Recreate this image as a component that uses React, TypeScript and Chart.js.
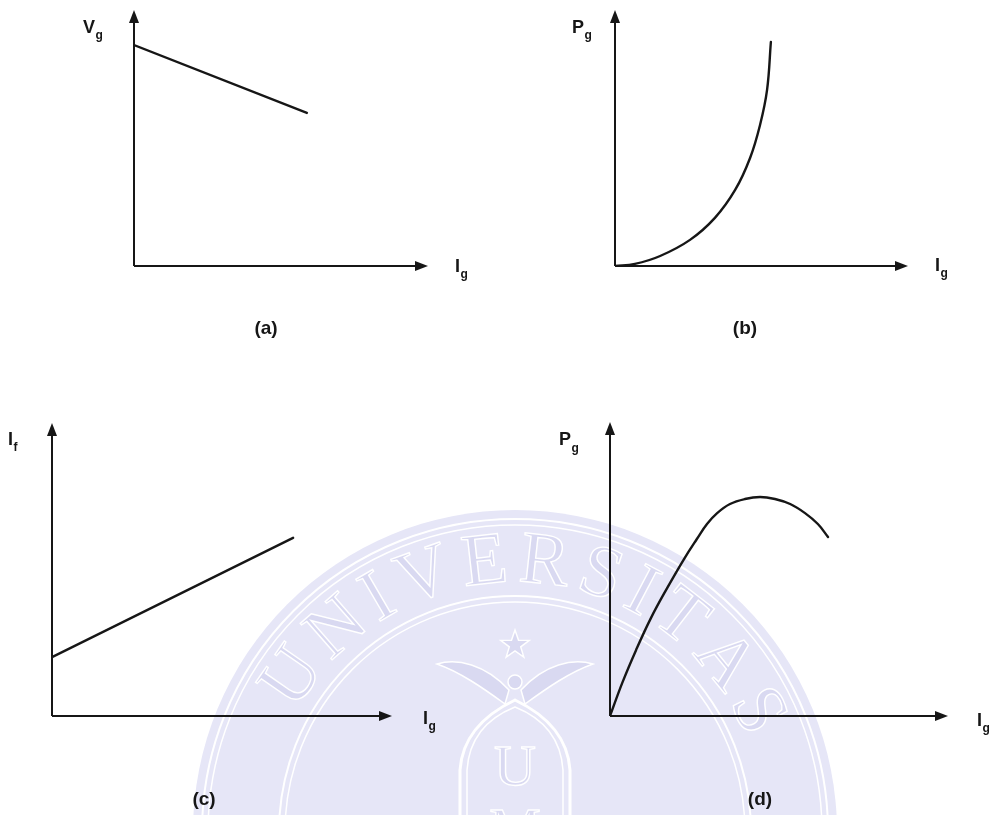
import React, { useEffect, useRef } from "react";
import { Chart, registerables } from "chart.js";

Chart.register(...registerables);

const W = 999;
const H = 815;
const INK = "#161616";

// (a) terminal voltage Vg against load current Ig
const aIg = [0, 58.8];
const aVg = [86.3, 59.8];

// (b) power Pg against load current Ig
const bIg = [0, 6.8, 15.4, 25.6, 34.1, 41.0, 46.1, 49.5, 51.9, 53.2];
const bPg = [0, 0.8, 3.9, 10.2, 18.8, 29.7, 42.2, 55.1, 68.8, 87.5];

// (c) field current If against load current Ig
const cIg = [0, 70.9];
const cIf = [20.1, 60.8];

// (d) power Pg against load current Ig, with a maximum
const dIg = [0, 3.6, 7.7, 12.1, 16.9, 21.9, 25.7, 28.7, 31.7, 35.5, 39.9, 44.4, 48.8, 53.3, 57.7, 61.5, 64.5];
const dPg = [0, 11.2, 22.4, 33.3, 43.5, 53.4, 60.2, 65.3, 69.0, 72.1, 73.8, 74.5, 73.8, 72.1, 69.0, 65.3, 60.9];

const captions = ["(a)", "(b)", "(c)", "(d)"];

type Label = { main: string; sub: string; x: number; y: number; subDy: number };
type Panel = {
  xs: number[];
  ys: number[];
  smooth: boolean;
  origin: [number, number];
  xTip: number;
  yTip: number;
  yLabel: Label;
  xLabel: Label;
  caption: { text: string; x: number; y: number };
};

const panels: Panel[] = [
  {
    xs: aIg, ys: aVg, smooth: false,
    origin: [134, 266], xTip: 428, yTip: 10,
    yLabel: { main: "V", sub: "g", x: 83, y: 33, subDy: 6 },
    xLabel: { main: "I", sub: "g", x: 455, y: 272, subDy: 6 },
    caption: { text: captions[0], x: 266, y: 334 },
  },
  {
    xs: bIg, ys: bPg, smooth: true,
    origin: [615, 266], xTip: 908, yTip: 10,
    yLabel: { main: "P", sub: "g", x: 572, y: 33, subDy: 6 },
    xLabel: { main: "I", sub: "g", x: 935, y: 271, subDy: 6 },
    caption: { text: captions[1], x: 745, y: 334 },
  },
  {
    xs: cIg, ys: cIf, smooth: false,
    origin: [52, 716], xTip: 392, yTip: 423,
    yLabel: { main: "I", sub: "f", x: 8, y: 445, subDy: 6 },
    xLabel: { main: "I", sub: "g", x: 423, y: 724, subDy: 6 },
    caption: { text: captions[2], x: 204, y: 805 },
  },
  {
    xs: dIg, ys: dPg, smooth: true,
    origin: [610, 716], xTip: 948, yTip: 422,
    yLabel: { main: "P", sub: "g", x: 559, y: 445, subDy: 7 },
    xLabel: { main: "I", sub: "g", x: 977, y: 726, subDy: 6 },
    caption: { text: captions[3], x: 760, y: 805 },
  },
];

const SANS = '"Liberation Sans", Arial, sans-serif';
const SERIF = '"Liberation Serif", "DejaVu Serif", serif';

// faint university seal behind the diagrams
function drawSeal(ctx: CanvasRenderingContext2D) {
  const cx = 515, cy = 832, R = 322;
  const fill = "#e6e6f7";
  const mark = "#d9d9f1";
  ctx.save();
  ctx.fillStyle = fill;
  ctx.beginPath();
  ctx.arc(cx, cy, R, 0, Math.PI * 2);
  ctx.fill();

  ctx.strokeStyle = "#ffffff";
  const rings: [number, number][] = [[313, 2], [307, 1.5], [236, 2], [230, 1.5]];
  for (const [r, w] of rings) {
    ctx.lineWidth = w;
    ctx.beginPath();
    ctx.arc(cx, cy, r, 0, Math.PI * 2);
    ctx.stroke();
  }

  // lettering round the ring
  const word = "UNIVERSITAS";
  const rText = 250;
  const spacing = 8;
  ctx.font = `74px ${SERIF}`;
  ctx.textAlign = "center";
  ctx.textBaseline = "alphabetic";
  const widths = [...word].map((ch) => ctx.measureText(ch).width);
  const total = widths.reduce((s, w) => s + w, 0) + spacing * (word.length - 1);
  let acc = 0.06 * rText - total / 2;
  ctx.lineWidth = 1.4;
  [...word].forEach((ch, i) => {
    const a = (acc + widths[i] / 2) / rText;
    acc += widths[i] + spacing;
    ctx.save();
    ctx.translate(cx, cy);
    ctx.rotate(a);
    ctx.fillStyle = mark;
    ctx.fillText(ch, 0, -rText);
    ctx.strokeText(ch, 0, -rText);
    ctx.restore();
  });

  // star
  ctx.beginPath();
  for (let k = 0; k < 10; k++) {
    const r = k % 2 === 0 ? 15 : 6;
    const t = -Math.PI / 2 + (k * Math.PI) / 5;
    const px = cx + r * Math.cos(t);
    const py = 645 + r * Math.sin(t);
    if (k === 0) ctx.moveTo(px, py); else ctx.lineTo(px, py);
  }
  ctx.closePath();
  ctx.fillStyle = mark;
  ctx.fill();
  ctx.lineWidth = 1.5;
  ctx.stroke();

  // spread wings
  for (const s of [-1, 1]) {
    ctx.beginPath();
    ctx.moveTo(cx + s * 6, 690);
    ctx.bezierCurveTo(cx + s * 30, 664, cx + s * 58, 658, cx + s * 78, 664);
    ctx.bezierCurveTo(cx + s * 55, 672, cx + s * 32, 688, cx + s * 10, 704);
    ctx.closePath();
    ctx.fillStyle = mark;
    ctx.fill();
    ctx.lineWidth = 1.5;
    ctx.stroke();
  }
  ctx.beginPath();
  ctx.arc(cx, 682, 7, 0, Math.PI * 2);
  ctx.fillStyle = mark;
  ctx.fill();
  ctx.stroke();

  // pointed shield
  for (const [inset, w] of [[0, 3], [7, 1.5]] as [number, number][]) {
    ctx.beginPath();
    ctx.moveTo(cx - 55 + inset, 830);
    ctx.lineTo(cx - 55 + inset, 770);
    ctx.quadraticCurveTo(cx - 52 + inset, 725, cx, 700 + inset);
    ctx.quadraticCurveTo(cx + 52 - inset, 725, cx + 55 - inset, 770);
    ctx.lineTo(cx + 55 - inset, 830);
    ctx.lineWidth = w;
    ctx.stroke();
  }
  ctx.font = `58px ${SERIF}`;
  ctx.fillStyle = mark;
  ctx.lineWidth = 1.4;
  ctx.fillText("U", cx, 785);
  ctx.strokeText("U", cx, 785);
  ctx.fillText("M", cx, 848);
  ctx.strokeText("M", cx, 848);
  ctx.restore();
}

function drawLabel(ctx: CanvasRenderingContext2D, l: Label) {
  ctx.font = `bold 18px ${SANS}`;
  ctx.textAlign = "left";
  ctx.textBaseline = "alphabetic";
  ctx.fillText(l.main, l.x, l.y);
  const w = ctx.measureText(l.main).width;
  ctx.font = `bold 12px ${SANS}`;
  ctx.fillText(l.sub, l.x + w + 0.5, l.y + l.subDy);
}

const axesPlugin = {
  id: "arrowAxes",
  beforeDatasetsDraw(chart: Chart) {
    const { ctx, chartArea } = chart;
    const { left, right, top, bottom } = chartArea;
    const len = 13;
    const half = 5;
    ctx.save();
    ctx.strokeStyle = INK;
    ctx.fillStyle = INK;
    ctx.lineWidth = 2;
    ctx.beginPath();
    ctx.moveTo(left, bottom);
    ctx.lineTo(right - len + 1, bottom);
    ctx.moveTo(left, bottom);
    ctx.lineTo(left, top + len - 1);
    ctx.stroke();
    ctx.beginPath();
    ctx.moveTo(right, bottom);
    ctx.lineTo(right - len, bottom - half);
    ctx.lineTo(right - len, bottom + half);
    ctx.closePath();
    ctx.fill();
    ctx.beginPath();
    ctx.moveTo(left, top);
    ctx.lineTo(left - half, top + len);
    ctx.lineTo(left + half, top + len);
    ctx.closePath();
    ctx.fill();
    ctx.restore();
  },
};

function labelPlugin(p: Panel) {
  return {
    id: "panelLabels",
    afterDraw(chart: Chart) {
      const ctx = chart.ctx;
      ctx.save();
      ctx.fillStyle = INK;
      drawLabel(ctx, p.yLabel);
      drawLabel(ctx, p.xLabel);
      ctx.font = `bold 19px ${SANS}`;
      ctx.textAlign = "center";
      ctx.fillText(p.caption.text, p.caption.x, p.caption.y);
      ctx.restore();
    },
  };
}

const sealPlugin = {
  id: "seal",
  beforeDraw(chart: Chart) {
    drawSeal(chart.ctx);
  },
};

export default function App() {
  const refs = useRef<(HTMLCanvasElement | null)[]>([]);

  useEffect(() => {
    const charts = panels.map((p, i) => {
      const canvas = refs.current[i] as HTMLCanvasElement;
      const [ox, oy] = p.origin;
      return new Chart(canvas, {
        type: "line",
        data: {
          datasets: [
            {
              data: p.xs.map((x, k) => ({ x, y: p.ys[k] })),
              borderColor: INK,
              borderWidth: 2.4,
              pointRadius: 0,
              fill: false,
              tension: p.smooth ? 0.4 : 0,
              borderCapStyle: "round",
              borderJoinStyle: "round",
            },
          ],
        },
        options: {
          responsive: false,
          animation: false,
          events: [],
          layout: {
            padding: { left: ox, top: p.yTip, right: W - p.xTip, bottom: H - oy },
          },
          scales: {
            x: { type: "linear", min: 0, max: 100, display: false },
            y: { type: "linear", min: 0, max: 100, display: false },
          },
          plugins: {
            legend: { display: false },
            tooltip: { enabled: false },
          },
        },
        plugins: i === 0 ? [sealPlugin, axesPlugin, labelPlugin(p)] : [axesPlugin, labelPlugin(p)],
      } as any);
    });
    return () => charts.forEach((c) => c.destroy());
  }, []);

  return (
    <div style={{ position: "absolute", left: 0, top: 0, width: W, height: H, background: "#fff" }}>
      {panels.map((_, i) => (
        <canvas
          key={i}
          ref={(el) => { refs.current[i] = el; }}
          width={W}
          height={H}
          style={{ position: "absolute", left: 0, top: 0, width: W, height: H }}
        />
      ))}
    </div>
  );
}
